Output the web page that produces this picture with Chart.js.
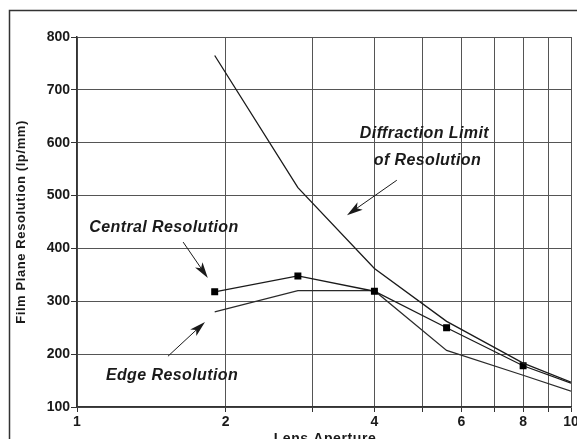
<!DOCTYPE html>
<html>
<head>
<meta charset="utf-8">
<script src="https://cdn.jsdelivr.net/npm/chart.js@4"></script>
<style>
  html, body { margin: 0; padding: 0; background: #fff; overflow: hidden; }
  canvas { display: block; }
</style>
</head>
<body>
<canvas id="chart" width="577" height="439"></canvas>
<script>
// lens apertures (f-number) where each curve was measured
const apertures = [1.9, 2.8, 4, 5.6, 8, 10];
const diffractionLimit = [765, 515, 362, 262, 183, 147];
const centralRes = [318, 348, 319, 250, 178, 145];
const edgeRes = [280, 320, 320, 207, 160, 130];
const centralMarker = [4, 4, 4, 4, 4, 0];

const xTicks = [1, 2, 3, 4, 5, 6, 7, 8, 9, 10];
const xTickLabels = ['1', '2', '', '4', '', '6', '', '8', '', '10'];
const yMin = 100, yMax = 800, yStep = 100;

// callouts, placed in data units
const notes = [
  { lines: ['Diffraction Limit', 'of Resolution'], x: 5.05, y: 618, gap: 27, from: [4.44, 529], to: [3.52, 463] },
  { lines: ['Central Resolution'], x: 1.50, y: 440, gap: 0, from: [1.64, 412], to: [1.84, 344] },
  { lines: ['Edge Resolution'], x: 1.557, y: 159, gap: 0, from: [1.528, 196], to: [1.816, 261] },
];

const pts = ys => apertures.map((x, i) => ({ x, y: ys[i] }));
const ink = '#1a1a1a';
const face = '"Liberation Sans", Arial, sans-serif';

function arrow(ctx, x1, y1, x2, y2) {
  const a = Math.atan2(y2 - y1, x2 - x1);
  const len = 16, w = 4.5;
  ctx.beginPath();
  ctx.moveTo(x1, y1);
  ctx.lineTo(x2 - Math.cos(a) * len * 0.6, y2 - Math.sin(a) * len * 0.6);
  ctx.stroke();
  ctx.beginPath();
  ctx.moveTo(x2, y2);
  ctx.lineTo(x2 - Math.cos(a) * len + Math.sin(a) * w, y2 - Math.sin(a) * len - Math.cos(a) * w);
  ctx.lineTo(x2 - Math.cos(a) * len * 0.75, y2 - Math.sin(a) * len * 0.75);
  ctx.lineTo(x2 - Math.cos(a) * len - Math.sin(a) * w, y2 - Math.sin(a) * len + Math.cos(a) * w);
  ctx.closePath();
  ctx.fill();
}

const decor = {
  id: 'decor',
  beforeDraw(chart) {
    const ctx = chart.ctx;
    ctx.save();
    ctx.fillStyle = '#fff';
    ctx.fillRect(0, 0, chart.width, chart.height);
    ctx.restore();
  },
  afterDraw(chart) {
    const { ctx, chartArea } = chart;
    const xs = chart.scales.x, ys = chart.scales.y;
    ctx.save();
    // outer frame
    ctx.strokeStyle = '#333';
    ctx.lineWidth = 1.5;
    ctx.strokeRect(9.5, 10.5, chart.width, chart.height);

    // axis titles
    ctx.fillStyle = ink;
    ctx.font = 'bold 13px ' + face;
    ctx.letterSpacing = '0.6px';
    ctx.textAlign = 'center';
    ctx.textBaseline = 'middle';
    ctx.save();
    ctx.translate(21, (chartArea.top + chartArea.bottom) / 2);
    ctx.rotate(-Math.PI / 2);
    ctx.fillText('Film Plane Resolution (lp/mm)', 0, 0);
    ctx.restore();
    ctx.font = 'bold 14px ' + face;
    ctx.textBaseline = 'top';
    ctx.fillText('Lens Aperture', 325, 432);

    // callouts
    ctx.font = 'italic bold 16px ' + face;
    ctx.letterSpacing = '0.4px';
    ctx.textBaseline = 'middle';
    ctx.strokeStyle = ink;
    ctx.lineWidth = 1;
    notes.forEach(n => {
      const cx = xs.getPixelForValue(n.x), cy = ys.getPixelForValue(n.y);
      n.lines.forEach((t, i) => ctx.fillText(t, cx + (i ? 3 : 0), cy + i * n.gap));
      arrow(ctx,
        xs.getPixelForValue(n.from[0]), ys.getPixelForValue(n.from[1]),
        xs.getPixelForValue(n.to[0]), ys.getPixelForValue(n.to[1]));
    });
    ctx.restore();
  }
};

new Chart(document.getElementById('chart'), {
  type: 'line',
  data: {
    datasets: [
      {
        label: 'Diffraction Limit of Resolution',
        data: pts(diffractionLimit),
        borderColor: ink,
        borderWidth: 1.3,
        pointRadius: 0,
        tension: 0,
      },
      {
        label: 'Central Resolution',
        data: pts(centralRes),
        borderColor: ink,
        borderWidth: 1.3,
        pointStyle: 'rect',
        pointRadius: centralMarker,
        pointBackgroundColor: '#000',
        pointBorderColor: '#000',
        tension: 0,
      },
      {
        label: 'Edge Resolution',
        data: pts(edgeRes),
        borderColor: '#2a2a2a',
        borderWidth: 1.2,
        pointRadius: 0,
        tension: 0,
      },
    ],
  },
  options: {
    responsive: false,
    animation: false,
    layout: { padding: { top: 37, right: 6, left: 0, bottom: 0 } },
    plugins: { legend: { display: false }, tooltip: { enabled: false } },
    scales: {
      x: {
        type: 'logarithmic',
        min: 1,
        max: 10,
        afterBuildTicks: s => { s.ticks = xTicks.map(v => ({ value: v })); },
        afterFit: s => { s.height = 32; s.paddingLeft = 0; s.paddingRight = 0; },
        grid: { color: '#555', lineWidth: 1, tickLength: 5, tickColor: '#333' },
        border: { color: '#333', width: 1.5 },
        ticks: {
          autoSkip: false,
          maxRotation: 0,
          padding: 2,
          color: ink,
          font: { family: face, size: 14, weight: 'bold' },
          callback: v => xTickLabels[xTicks.indexOf(v)],
        },
      },
      y: {
        min: yMin,
        max: yMax,
        afterFit: s => { s.width = 77; s.paddingTop = 0; s.paddingBottom = 0; },
        grid: { color: '#555', lineWidth: 1, tickLength: 6, tickColor: '#333' },
        border: { color: '#333', width: 1.5 },
        ticks: {
          stepSize: yStep,
          padding: 1,
          color: ink,
          font: { family: face, size: 14, weight: 'bold' },
        },
      },
    },
  },
  plugins: [decor],
});
</script>
</body>
</html>
